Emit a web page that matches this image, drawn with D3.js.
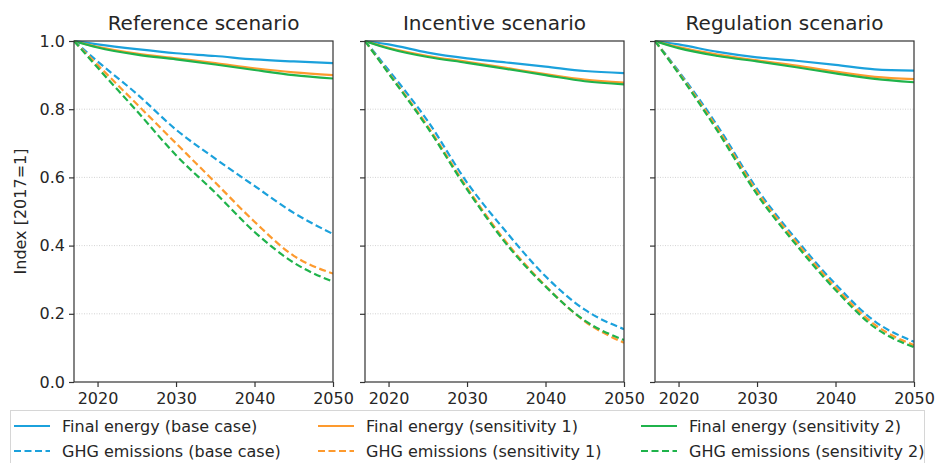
<!DOCTYPE html>
<html>
<head>
<meta charset="utf-8">
<script src="https://cdn.jsdelivr.net/npm/d3@7"></script>
<style>
  body { margin: 0; background: #fff; }
  svg { display: block; font-family: "DejaVu Sans", sans-serif; }
</style>
</head>
<body>
<svg id="chart"></svg>
<script>
var width = 936, height = 463;

// data
var years = [2017, 2020, 2025, 2030, 2035, 2040, 2045, 2050];
var scenarios = ["Reference scenario", "Incentive scenario", "Regulation scenario"];
var cases = ["base case", "sensitivity 1", "sensitivity 2"];

// final energy, one array per case, per scenario
var energyRef = [
  [1.0, 0.990, 0.976, 0.964, 0.956, 0.946, 0.940, 0.935],
  [1.0, 0.983, 0.963, 0.949, 0.935, 0.920, 0.908, 0.900],
  [1.0, 0.981, 0.960, 0.946, 0.931, 0.915, 0.900, 0.890]
];
var energyInc = [
  [1.0, 0.990, 0.966, 0.949, 0.937, 0.925, 0.912, 0.906],
  [1.0, 0.980, 0.956, 0.939, 0.921, 0.903, 0.887, 0.878],
  [1.0, 0.978, 0.953, 0.936, 0.918, 0.900, 0.882, 0.873]
];
var energyReg = [
  [1.0, 0.990, 0.968, 0.952, 0.942, 0.930, 0.917, 0.913],
  [1.0, 0.982, 0.960, 0.943, 0.928, 0.910, 0.895, 0.888],
  [1.0, 0.979, 0.956, 0.940, 0.923, 0.905, 0.889, 0.879]
];
// GHG emissions
var ghgRef = [
  [1.0, 0.940, 0.845, 0.740, 0.655, 0.575, 0.496, 0.434],
  [1.0, 0.930, 0.815, 0.700, 0.585, 0.470, 0.370, 0.318],
  [1.0, 0.922, 0.795, 0.665, 0.555, 0.440, 0.350, 0.294]
];
var ghgInc = [
  [1.0, 0.915, 0.765, 0.585, 0.440, 0.310, 0.212, 0.155],
  [1.0, 0.907, 0.750, 0.570, 0.410, 0.282, 0.178, 0.115],
  [1.0, 0.905, 0.745, 0.565, 0.405, 0.280, 0.180, 0.123]
];
var ghgReg = [
  [1.0, 0.912, 0.750, 0.566, 0.418, 0.287, 0.178, 0.118],
  [1.0, 0.908, 0.742, 0.558, 0.410, 0.278, 0.168, 0.108],
  [1.0, 0.905, 0.735, 0.550, 0.402, 0.270, 0.160, 0.102]
];

var energyAll = [energyRef, energyInc, energyReg];
var ghgAll = [ghgRef, ghgInc, ghgReg];
var yTicks = [0.0, 0.2, 0.4, 0.6, 0.8, 1.0];
var xTicks = [2020, 2030, 2040, 2050];
var colors = ["#1ba1dc", "#fd9a2e", "#1fb34b"];

var svg = d3.select("#chart")
    .attr("width", width)
    .attr("height", height);

var panelLeft = [74, 365, 655];
var panelW = 259;
var plotTop = 41, plotBottom = 382;

var y = d3.scaleLinear().domain([0, 1]).range([plotBottom, plotTop]);

// Y label
svg.append("text")
    .attr("transform", "translate(26," + ((plotTop + plotBottom) / 2) + ") rotate(-90)")
    .attr("text-anchor", "middle")
    .style("font-size", "16px")
    .attr("fill", "#262626")
    .text("Index [2017=1]");

scenarios.forEach(function(name, i) {
  var x = d3.scaleLinear().domain([2017, 2050]).range([panelLeft[i], panelLeft[i] + panelW]);
  var g = svg.append("g");

  // grid
  g.selectAll(".grid")
    .data([0.2, 0.4, 0.6, 0.8])
    .enter().append("line")
      .attr("x1", x.range()[0]).attr("x2", x.range()[1])
      .attr("y1", function(d) { return y(d); })
      .attr("y2", function(d) { return y(d); })
      .attr("stroke", "#c8c8c8")
      .attr("stroke-width", 0.8)
      .attr("stroke-dasharray", "1,1.5");

  // axes
  var xAxis = d3.axisBottom(x).tickValues(xTicks).tickFormat(d3.format("d")).tickSizeOuter(0).tickSize(5);
  var gx = g.append("g").attr("transform", "translate(0," + plotBottom + ")").call(xAxis);
  var yAxis = d3.axisLeft(y).tickValues(yTicks).tickSizeOuter(0).tickSize(5)
      .tickFormat(i === 0 ? d3.format(".1f") : "");
  var gy = g.append("g").attr("transform", "translate(" + x.range()[0] + ",0)").call(yAxis);

  [gx, gy].forEach(function(a) {
    a.select(".domain").remove();
    a.selectAll("line").attr("stroke", "#333").attr("stroke-width", 1.2);
    a.selectAll("text").attr("fill", "#262626").style("font-size", "16px").style("font-family", "DejaVu Sans, sans-serif");
  });
  gx.selectAll("text").attr("dy", "0.85em");
  gy.selectAll("text").attr("x", -9);

  var line = d3.line()
      .x(function(d, k) { return x(years[k]); })
      .y(function(d) { return y(d); })
      .curve(d3.curveMonotoneX);

  var clipId = "clip" + i;
  g.append("clipPath").attr("id", clipId).append("rect")
      .attr("x", x.range()[0]).attr("y", plotTop - 2)
      .attr("width", panelW).attr("height", plotBottom - plotTop + 4);

  var lines = g.append("g").attr("clip-path", "url(#" + clipId + ")");

  energyAll[i].forEach(function(vals, c) {
    lines.append("path").datum(vals)
      .attr("d", line)
      .attr("fill", "none")
      .attr("stroke", colors[c])
      .attr("stroke-width", 2.2);
  });
  ghgAll[i].forEach(function(vals, c) {
    lines.append("path").datum(vals)
      .attr("d", line)
      .attr("fill", "none")
      .attr("stroke", colors[c])
      .attr("stroke-width", 2.2)
      .attr("stroke-dasharray", "7,3.5");
  });

  // frame
  g.append("rect")
    .attr("x", x.range()[0]).attr("y", plotTop)
    .attr("width", panelW).attr("height", plotBottom - plotTop)
    .attr("fill", "none")
    .attr("stroke", "#333")
    .attr("stroke-width", 1.2);

  // title
  g.append("text")
    .attr("x", x.range()[0] + panelW / 2)
    .attr("y", 30)
    .attr("text-anchor", "middle")
    .style("font-size", "20px")
    .attr("fill", "#262626")
    .text(name);
});

// legend
var legend = svg.append("g");
legend.append("rect")
    .attr("x", 10.5).attr("y", 410.5)
    .attr("width", 914).attr("height", 60)
    .attr("fill", "#fff")
    .attr("stroke", "#d6d6d6")
    .attr("stroke-width", 1);

var legCol = [14, 318, 641];
var legRow = [426, 451];
cases.forEach(function(cs, c) {
  [["Final energy", null], ["GHG emissions", "7,3.5"]].forEach(function(kind, r) {
    var lg = legend.append("g");
    lg.append("line")
      .attr("x1", legCol[c]).attr("x2", legCol[c] + 36)
      .attr("y1", legRow[r]).attr("y2", legRow[r])
      .attr("stroke", colors[c])
      .attr("stroke-width", 2.2)
      .attr("stroke-dasharray", kind[1]);
    lg.append("text")
      .attr("x", legCol[c] + 48)
      .attr("y", legRow[r])
      .attr("dy", "0.35em")
      .style("font-size", "16px")
      .attr("fill", "#262626")
      .text(kind[0] + " (" + cs + ")");
  });
});
</script>
</body>
</html>
